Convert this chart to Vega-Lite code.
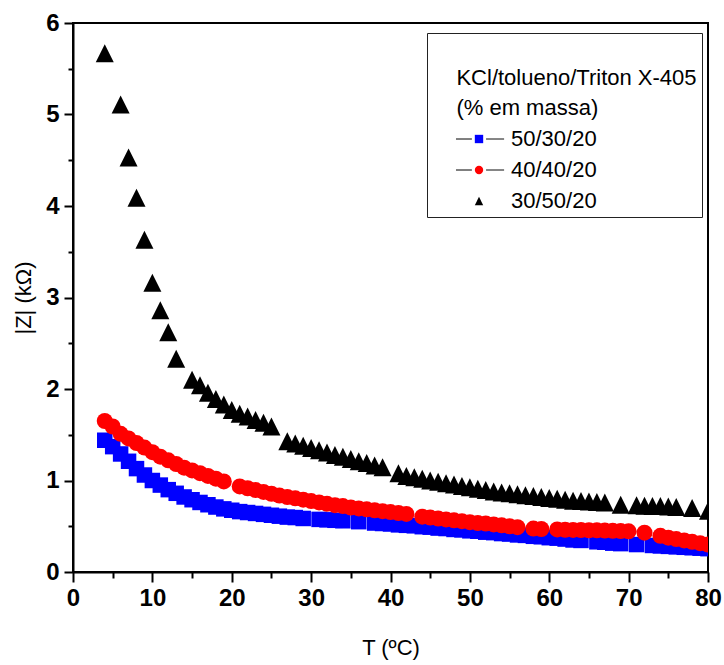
{
  "$schema": "https://vega.github.io/schema/vega-lite/v6.json",
  "width": 635,
  "height": 549,
  "autosize": {"type": "none"},
  "padding": {"left": 73, "top": 23, "right": 16, "bottom": 93},
  "background": "white",
  "datasets": {
    "pts": [
      {"series":"50/30/20","T":4,"Z":1.44},{"series":"50/30/20","T":5,"Z":1.37},{"series":"50/30/20","T":6,"Z":1.29},{"series":"50/30/20","T":7,"Z":1.21},{"series":"50/30/20","T":8,"Z":1.13},{"series":"50/30/20","T":9,"Z":1.06},{"series":"50/30/20","T":10,"Z":1.0},{"series":"50/30/20","T":11,"Z":0.95},{"series":"50/30/20","T":12,"Z":0.9},{"series":"50/30/20","T":13,"Z":0.86},{"series":"50/30/20","T":14,"Z":0.82},{"series":"50/30/20","T":15,"Z":0.79},{"series":"50/30/20","T":16,"Z":0.76},{"series":"50/30/20","T":17,"Z":0.735},{"series":"50/30/20","T":18,"Z":0.71},{"series":"50/30/20","T":19,"Z":0.69},{"series":"50/30/20","T":20,"Z":0.675},{"series":"50/30/20","T":21,"Z":0.66},{"series":"50/30/20","T":22,"Z":0.65},{"series":"50/30/20","T":23,"Z":0.64},{"series":"50/30/20","T":24,"Z":0.63},{"series":"50/30/20","T":25,"Z":0.62},{"series":"50/30/20","T":26,"Z":0.61},{"series":"50/30/20","T":27,"Z":0.6},{"series":"50/30/20","T":28,"Z":0.595},{"series":"50/30/20","T":29,"Z":0.585},{"series":"50/30/20","T":31,"Z":0.575},{"series":"50/30/20","T":32,"Z":0.57},{"series":"50/30/20","T":33,"Z":0.565},{"series":"50/30/20","T":34,"Z":0.56},{"series":"50/30/20","T":36,"Z":0.55},{"series":"50/30/20","T":38,"Z":0.535},{"series":"50/30/20","T":39,"Z":0.53},{"series":"50/30/20","T":40,"Z":0.525},{"series":"50/30/20","T":41,"Z":0.515},{"series":"50/30/20","T":42,"Z":0.51},{"series":"50/30/20","T":43,"Z":0.505},{"series":"50/30/20","T":44,"Z":0.495},{"series":"50/30/20","T":45,"Z":0.49},{"series":"50/30/20","T":46,"Z":0.48},{"series":"50/30/20","T":47,"Z":0.475},{"series":"50/30/20","T":48,"Z":0.465},{"series":"50/30/20","T":49,"Z":0.46},{"series":"50/30/20","T":50,"Z":0.45},{"series":"50/30/20","T":51,"Z":0.445},{"series":"50/30/20","T":52,"Z":0.435},{"series":"50/30/20","T":53,"Z":0.43},{"series":"50/30/20","T":54,"Z":0.42},{"series":"50/30/20","T":55,"Z":0.415},{"series":"50/30/20","T":56,"Z":0.405},{"series":"50/30/20","T":57,"Z":0.4},{"series":"50/30/20","T":58,"Z":0.39},{"series":"50/30/20","T":59,"Z":0.385},{"series":"50/30/20","T":60,"Z":0.375},{"series":"50/30/20","T":61,"Z":0.37},{"series":"50/30/20","T":62,"Z":0.36},{"series":"50/30/20","T":63,"Z":0.35},{"series":"50/30/20","T":64,"Z":0.345},{"series":"50/30/20","T":66,"Z":0.33},{"series":"50/30/20","T":67,"Z":0.325},{"series":"50/30/20","T":68,"Z":0.315},{"series":"50/30/20","T":69,"Z":0.31},{"series":"50/30/20","T":71,"Z":0.3},{"series":"50/30/20","T":73,"Z":0.29},{"series":"50/30/20","T":74,"Z":0.285},{"series":"50/30/20","T":75,"Z":0.28},{"series":"50/30/20","T":76,"Z":0.275},{"series":"50/30/20","T":77,"Z":0.27},{"series":"50/30/20","T":78,"Z":0.265},{"series":"50/30/20","T":79,"Z":0.26},{"series":"50/30/20","T":80,"Z":0.255},
      {"series":"40/40/20","T":4,"Z":1.65},{"series":"40/40/20","T":5,"Z":1.59},{"series":"40/40/20","T":6,"Z":1.51},{"series":"40/40/20","T":7,"Z":1.46},{"series":"40/40/20","T":8,"Z":1.41},{"series":"40/40/20","T":9,"Z":1.36},{"series":"40/40/20","T":10,"Z":1.31},{"series":"40/40/20","T":11,"Z":1.26},{"series":"40/40/20","T":12,"Z":1.22},{"series":"40/40/20","T":13,"Z":1.18},{"series":"40/40/20","T":14,"Z":1.14},{"series":"40/40/20","T":15,"Z":1.11},{"series":"40/40/20","T":16,"Z":1.08},{"series":"40/40/20","T":17,"Z":1.05},{"series":"40/40/20","T":18,"Z":1.02},{"series":"40/40/20","T":19,"Z":0.99},{"series":"40/40/20","T":21,"Z":0.935},{"series":"40/40/20","T":22,"Z":0.915},{"series":"40/40/20","T":23,"Z":0.895},{"series":"40/40/20","T":24,"Z":0.875},{"series":"40/40/20","T":25,"Z":0.855},{"series":"40/40/20","T":26,"Z":0.835},{"series":"40/40/20","T":27,"Z":0.82},{"series":"40/40/20","T":28,"Z":0.805},{"series":"40/40/20","T":29,"Z":0.79},{"series":"40/40/20","T":30,"Z":0.775},{"series":"40/40/20","T":31,"Z":0.76},{"series":"40/40/20","T":32,"Z":0.745},{"series":"40/40/20","T":33,"Z":0.73},{"series":"40/40/20","T":34,"Z":0.72},{"series":"40/40/20","T":35,"Z":0.705},{"series":"40/40/20","T":36,"Z":0.695},{"series":"40/40/20","T":37,"Z":0.685},{"series":"40/40/20","T":38,"Z":0.675},{"series":"40/40/20","T":39,"Z":0.665},{"series":"40/40/20","T":40,"Z":0.655},{"series":"40/40/20","T":41,"Z":0.645},{"series":"40/40/20","T":42,"Z":0.635},{"series":"40/40/20","T":44,"Z":0.605},{"series":"40/40/20","T":45,"Z":0.595},{"series":"40/40/20","T":46,"Z":0.585},{"series":"40/40/20","T":47,"Z":0.575},{"series":"40/40/20","T":48,"Z":0.565},{"series":"40/40/20","T":49,"Z":0.555},{"series":"40/40/20","T":50,"Z":0.545},{"series":"40/40/20","T":51,"Z":0.535},{"series":"40/40/20","T":52,"Z":0.53},{"series":"40/40/20","T":53,"Z":0.52},{"series":"40/40/20","T":54,"Z":0.51},{"series":"40/40/20","T":55,"Z":0.5},{"series":"40/40/20","T":56,"Z":0.49},{"series":"40/40/20","T":58,"Z":0.475},{"series":"40/40/20","T":59,"Z":0.47},{"series":"40/40/20","T":61,"Z":0.465},{"series":"40/40/20","T":62,"Z":0.462},{"series":"40/40/20","T":63,"Z":0.46},{"series":"40/40/20","T":64,"Z":0.458},{"series":"40/40/20","T":65,"Z":0.456},{"series":"40/40/20","T":66,"Z":0.455},{"series":"40/40/20","T":67,"Z":0.453},{"series":"40/40/20","T":68,"Z":0.45},{"series":"40/40/20","T":69,"Z":0.447},{"series":"40/40/20","T":70,"Z":0.445},{"series":"40/40/20","T":72,"Z":0.43},{"series":"40/40/20","T":74,"Z":0.395},{"series":"40/40/20","T":75,"Z":0.375},{"series":"40/40/20","T":76,"Z":0.36},{"series":"40/40/20","T":77,"Z":0.345},{"series":"40/40/20","T":78,"Z":0.33},{"series":"40/40/20","T":79,"Z":0.315},{"series":"40/40/20","T":80,"Z":0.3},
      {"series":"30/50/20","T":4,"Z":5.67},{"series":"30/50/20","T":6,"Z":5.11},{"series":"30/50/20","T":7,"Z":4.53},{"series":"30/50/20","T":8,"Z":4.09},{"series":"30/50/20","T":9,"Z":3.63},{"series":"30/50/20","T":10,"Z":3.16},{"series":"30/50/20","T":11,"Z":2.86},{"series":"30/50/20","T":12,"Z":2.62},{"series":"30/50/20","T":13,"Z":2.33},{"series":"30/50/20","T":15,"Z":2.1},{"series":"30/50/20","T":16,"Z":2.04},{"series":"30/50/20","T":17,"Z":1.96},{"series":"30/50/20","T":18,"Z":1.89},{"series":"30/50/20","T":19,"Z":1.83},{"series":"30/50/20","T":20,"Z":1.77},{"series":"30/50/20","T":21,"Z":1.73},{"series":"30/50/20","T":22,"Z":1.7},{"series":"30/50/20","T":23,"Z":1.66},{"series":"30/50/20","T":24,"Z":1.63},{"series":"30/50/20","T":25,"Z":1.59},{"series":"30/50/20","T":27,"Z":1.43},{"series":"30/50/20","T":28,"Z":1.405},{"series":"30/50/20","T":29,"Z":1.38},{"series":"30/50/20","T":30,"Z":1.355},{"series":"30/50/20","T":31,"Z":1.33},{"series":"30/50/20","T":32,"Z":1.305},{"series":"30/50/20","T":33,"Z":1.28},{"series":"30/50/20","T":34,"Z":1.26},{"series":"30/50/20","T":35,"Z":1.235},{"series":"30/50/20","T":36,"Z":1.21},{"series":"30/50/20","T":37,"Z":1.19},{"series":"30/50/20","T":38,"Z":1.165},{"series":"30/50/20","T":39,"Z":1.145},{"series":"30/50/20","T":41,"Z":1.08},{"series":"30/50/20","T":42,"Z":1.05},{"series":"30/50/20","T":43,"Z":1.035},{"series":"30/50/20","T":44,"Z":1.02},{"series":"30/50/20","T":45,"Z":1.0},{"series":"30/50/20","T":46,"Z":0.985},{"series":"30/50/20","T":47,"Z":0.97},{"series":"30/50/20","T":48,"Z":0.955},{"series":"30/50/20","T":49,"Z":0.94},{"series":"30/50/20","T":50,"Z":0.925},{"series":"30/50/20","T":51,"Z":0.91},{"series":"30/50/20","T":52,"Z":0.895},{"series":"30/50/20","T":53,"Z":0.88},{"series":"30/50/20","T":54,"Z":0.87},{"series":"30/50/20","T":55,"Z":0.86},{"series":"30/50/20","T":56,"Z":0.85},{"series":"30/50/20","T":57,"Z":0.84},{"series":"30/50/20","T":58,"Z":0.83},{"series":"30/50/20","T":59,"Z":0.82},{"series":"30/50/20","T":60,"Z":0.81},{"series":"30/50/20","T":61,"Z":0.8},{"series":"30/50/20","T":62,"Z":0.79},{"series":"30/50/20","T":63,"Z":0.78},{"series":"30/50/20","T":64,"Z":0.775},{"series":"30/50/20","T":65,"Z":0.77},{"series":"30/50/20","T":66,"Z":0.765},{"series":"30/50/20","T":67,"Z":0.76},{"series":"30/50/20","T":69,"Z":0.735},{"series":"30/50/20","T":71,"Z":0.73},{"series":"30/50/20","T":72,"Z":0.725},{"series":"30/50/20","T":73,"Z":0.72},{"series":"30/50/20","T":74,"Z":0.72},{"series":"30/50/20","T":75,"Z":0.715},{"series":"30/50/20","T":76,"Z":0.71},{"series":"30/50/20","T":78,"Z":0.7},{"series":"30/50/20","T":80,"Z":0.67}
    ]
  },
  "data": {"name": "pts"},
  "encoding": {
    "x": {
      "field": "T", "type": "quantitative",
      "scale": {"domain": [0, 80], "nice": false, "zero": false},
      "axis": {
        "title": "T (ºC)",
        "values": [0,5,10,15,20,25,30,35,40,45,50,55,60,65,70,75,80],
        "labelExpr": "datum.value % 10 === 0 ? format(datum.value, 'd') : ''",
        "tickSize": {"condition": {"test": "datum.value % 10 === 0", "value": 10}, "value": 6},
        "labelPadding": 4,
        "titlePadding": 27,
        "labelFlush": false
      }
    },
    "y": {
      "field": "Z", "type": "quantitative",
      "scale": {"domain": [0, 6], "nice": false},
      "axis": {
        "title": "|Z| (kΩ)",
        "values": [0,0.5,1,1.5,2,2.5,3,3.5,4,4.5,5,5.5,6],
        "labelExpr": "datum.value % 1 === 0 ? format(datum.value, 'd') : ''",
        "tickSize": {"condition": {"test": "datum.value % 1 === 0", "value": 9}, "value": 5},
        "labelPadding": 5,
        "titlePadding": 10
      }
    }
  },
  "layer": [
    {
      "transform": [{"filter": "datum.series !== '30/50/20'"}],
      "mark": {"type": "line", "opacity": 0},
      "encoding": {
        "strokeDash": {
          "field": "series", "type": "nominal",
          "scale": {"domain": ["50/30/20", "40/40/20"], "range": [[1, 0], [1, 0]]},
          "legend": {
            "title": ["\u00a0", "\u200b\u00a0\u00a0\u00a0\u00a0KCl/tolueno/Triton X-405", "\u200b\u00a0\u00a0\u00a0\u00a0(% em massa)"],
            "orient": "none", "legendX": 354, "legendY": 10,
            "padding": 5,
            "titleColor": "transparent",
            "labelColor": "transparent",
            "symbolType": "M-5.5,0H-1.7M1.7,0H6",
            "symbolStrokeColor": "black",
            "symbolStrokeWidth": 1,
            "symbolDash": [],
            "encode": {
              "symbols": {"update": {"opacity": {"value": 1}, "strokeOpacity": {"value": 1}, "stroke": {"value": "black"}, "fill": {"value": "transparent"}, "strokeDash": {"value": []}}}
            }
          }
        }
      }
    },
    {
      "encoding": {
        "color": {
          "field": "series", "type": "nominal",
          "scale": {"domain": ["50/30/20", "40/40/20", "30/50/20"], "range": ["#0000ff", "#ff0000", "#000000"]},
          "legend": {
            "title": ["\u00a0", "\u200b\u00a0\u00a0\u00a0\u00a0KCl/tolueno/Triton X-405", "\u200b\u00a0\u00a0\u00a0\u00a0(% em massa)"],
            "orient": "none", "legendX": 354, "legendY": 10,
            "padding": 5,
            "strokeColor": "#222222"
          }
        },
        "shape": {
          "field": "series", "type": "nominal",
          "scale": {"domain": ["50/30/20", "40/40/20", "30/50/20"], "range": ["square", "circle", "M0,-1L1,1L-1,1Z"]},
          "legend": {
            "title": ["\u00a0", "\u200b\u00a0\u00a0\u00a0\u00a0KCl/tolueno/Triton X-405", "\u200b\u00a0\u00a0\u00a0\u00a0(% em massa)"],
            "orient": "none", "legendX": 354, "legendY": 10,
            "padding": 5,
            "strokeColor": "#222222"
          }
        }
      },
      "layer": [
        {
          "transform": [{"filter": "datum.series === '50/30/20'"}],
          "mark": {"type": "point", "filled": true, "opacity": 1, "size": 240, "clip": true}
        },
        {
          "transform": [{"filter": "datum.series === '40/40/20'"}],
          "mark": {"type": "point", "filled": true, "opacity": 1, "size": 256, "clip": true}
        },
        {
          "transform": [{"filter": "datum.series === '30/50/20'"}],
          "mark": {"type": "point", "filled": true, "opacity": 1, "size": 324, "clip": true}
        }
      ]
    }
  ],
  "config": {
    "font": "Liberation Sans",
    "view": {"stroke": "black", "strokeWidth": 2},
    "axis": {
      "grid": false,
      "domainColor": "black", "domainWidth": 2,
      "tickColor": "black", "tickWidth": 2,
      "labelFont": "Liberation Sans", "labelFontSize": 24, "labelFontWeight": "bold", "labelColor": "black",
      "titleFont": "Liberation Sans", "titleFontSize": 22, "titleFontWeight": "normal", "titleColor": "black",
      "labelOverlap": false, "labelBound": false
    },
    "legend": {
      "titleFont": "Liberation Sans", "titleFontSize": 22, "titleFontWeight": "normal", "titleLineHeight": 30, "titlePadding": 8, "titleLimit": 400,
      "labelFont": "Liberation Sans", "labelFontSize": 22, "labelColor": "black", "labelLimit": 300,
      "symbolSize": 70, "symbolOffset": 36, "labelOffset": 21, "rowPadding": 9,
      "symbolStrokeWidth": 0
    }
  }
}
